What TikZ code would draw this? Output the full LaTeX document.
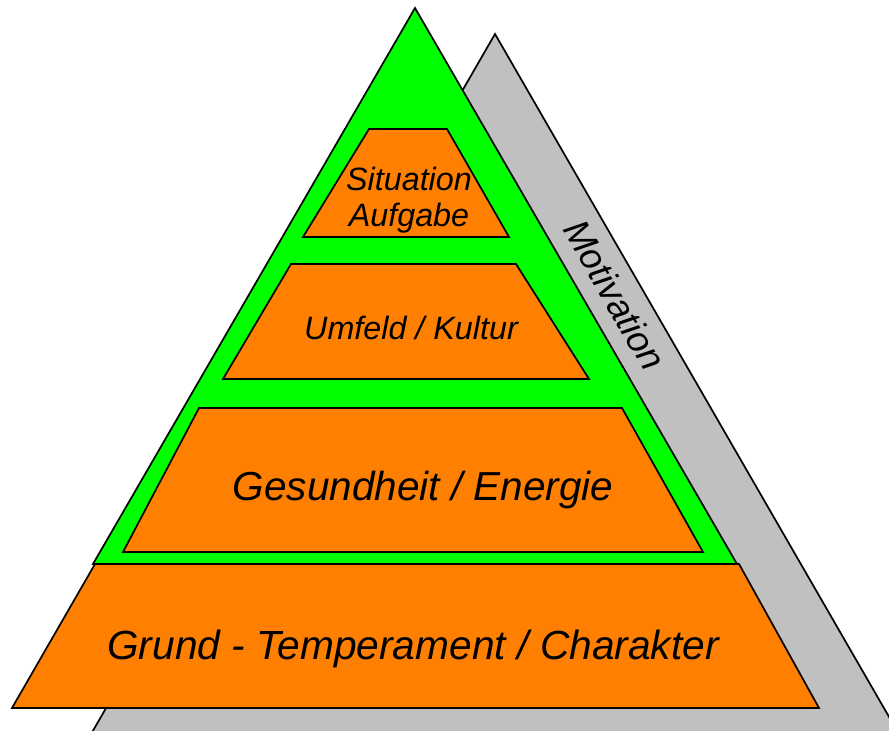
\documentclass[tikz,border=0pt]{standalone}
\usepackage{fontspec}
\setmainfont{Liberation Sans}
\definecolor{pyorange}{HTML}{FF8000}
\definecolor{pygreen}{HTML}{00FF00}
\definecolor{pygray}{HTML}{C0C0C0}
\begin{document}
\begin{tikzpicture}[x=1pt,y=-1pt,
  pyshape/.style={draw=black,line width=1.7pt,line join=miter},
  lbl/.style={inner sep=0pt,font=\itshape,text=black,align=center}]
\useasboundingbox (0,0) rectangle (889,731);
\clip (0,0) rectangle (889,731);
% gray motivation triangle
\draw[pyshape,fill=pygray] (495,34) -- (937,800) -- (53,800) -- cycle;
% green pyramid
\draw[pyshape,fill=pygreen] (415,8) -- (737,564) -- (93,564) -- cycle;
% levels
\draw[pyshape,fill=pyorange] (369,129) -- (447,129) -- (509,237) -- (303,237) -- cycle;
\draw[pyshape,fill=pyorange] (291,264) -- (516,264) -- (589,379) -- (223,379) -- cycle;
\draw[pyshape,fill=pyorange] (199,408) -- (622,408) -- (703,552) -- (123,552) -- cycle;
\draw[pyshape,fill=pyorange] (95,564) -- (739,564) -- (819,708) -- (12,708) -- cycle;
% labels
\node[lbl,font=\itshape\fontsize{32.3}{36}\selectfont] (sit) at (409,200) {Situation\\Aufgabe};
\node[lbl,font=\itshape\fontsize{32.3}{36}\selectfont] (umf) at (411,328) {Umfeld / Kultur};
\node[lbl,font=\itshape\fontsize{40.5}{44}\selectfont] (ges) at (423,490) {Gesundheit / Energie};
\node[lbl,font=\itshape\fontsize{40.7}{44}\selectfont] (grund) at (413,649) {Grund - Temperament / Charakter};
\node[lbl,font=\itshape\fontsize{36.5}{40}\selectfont,rotate=-60] (mot) at (615,295) {Motivation};
\end{tikzpicture}
\end{document}
